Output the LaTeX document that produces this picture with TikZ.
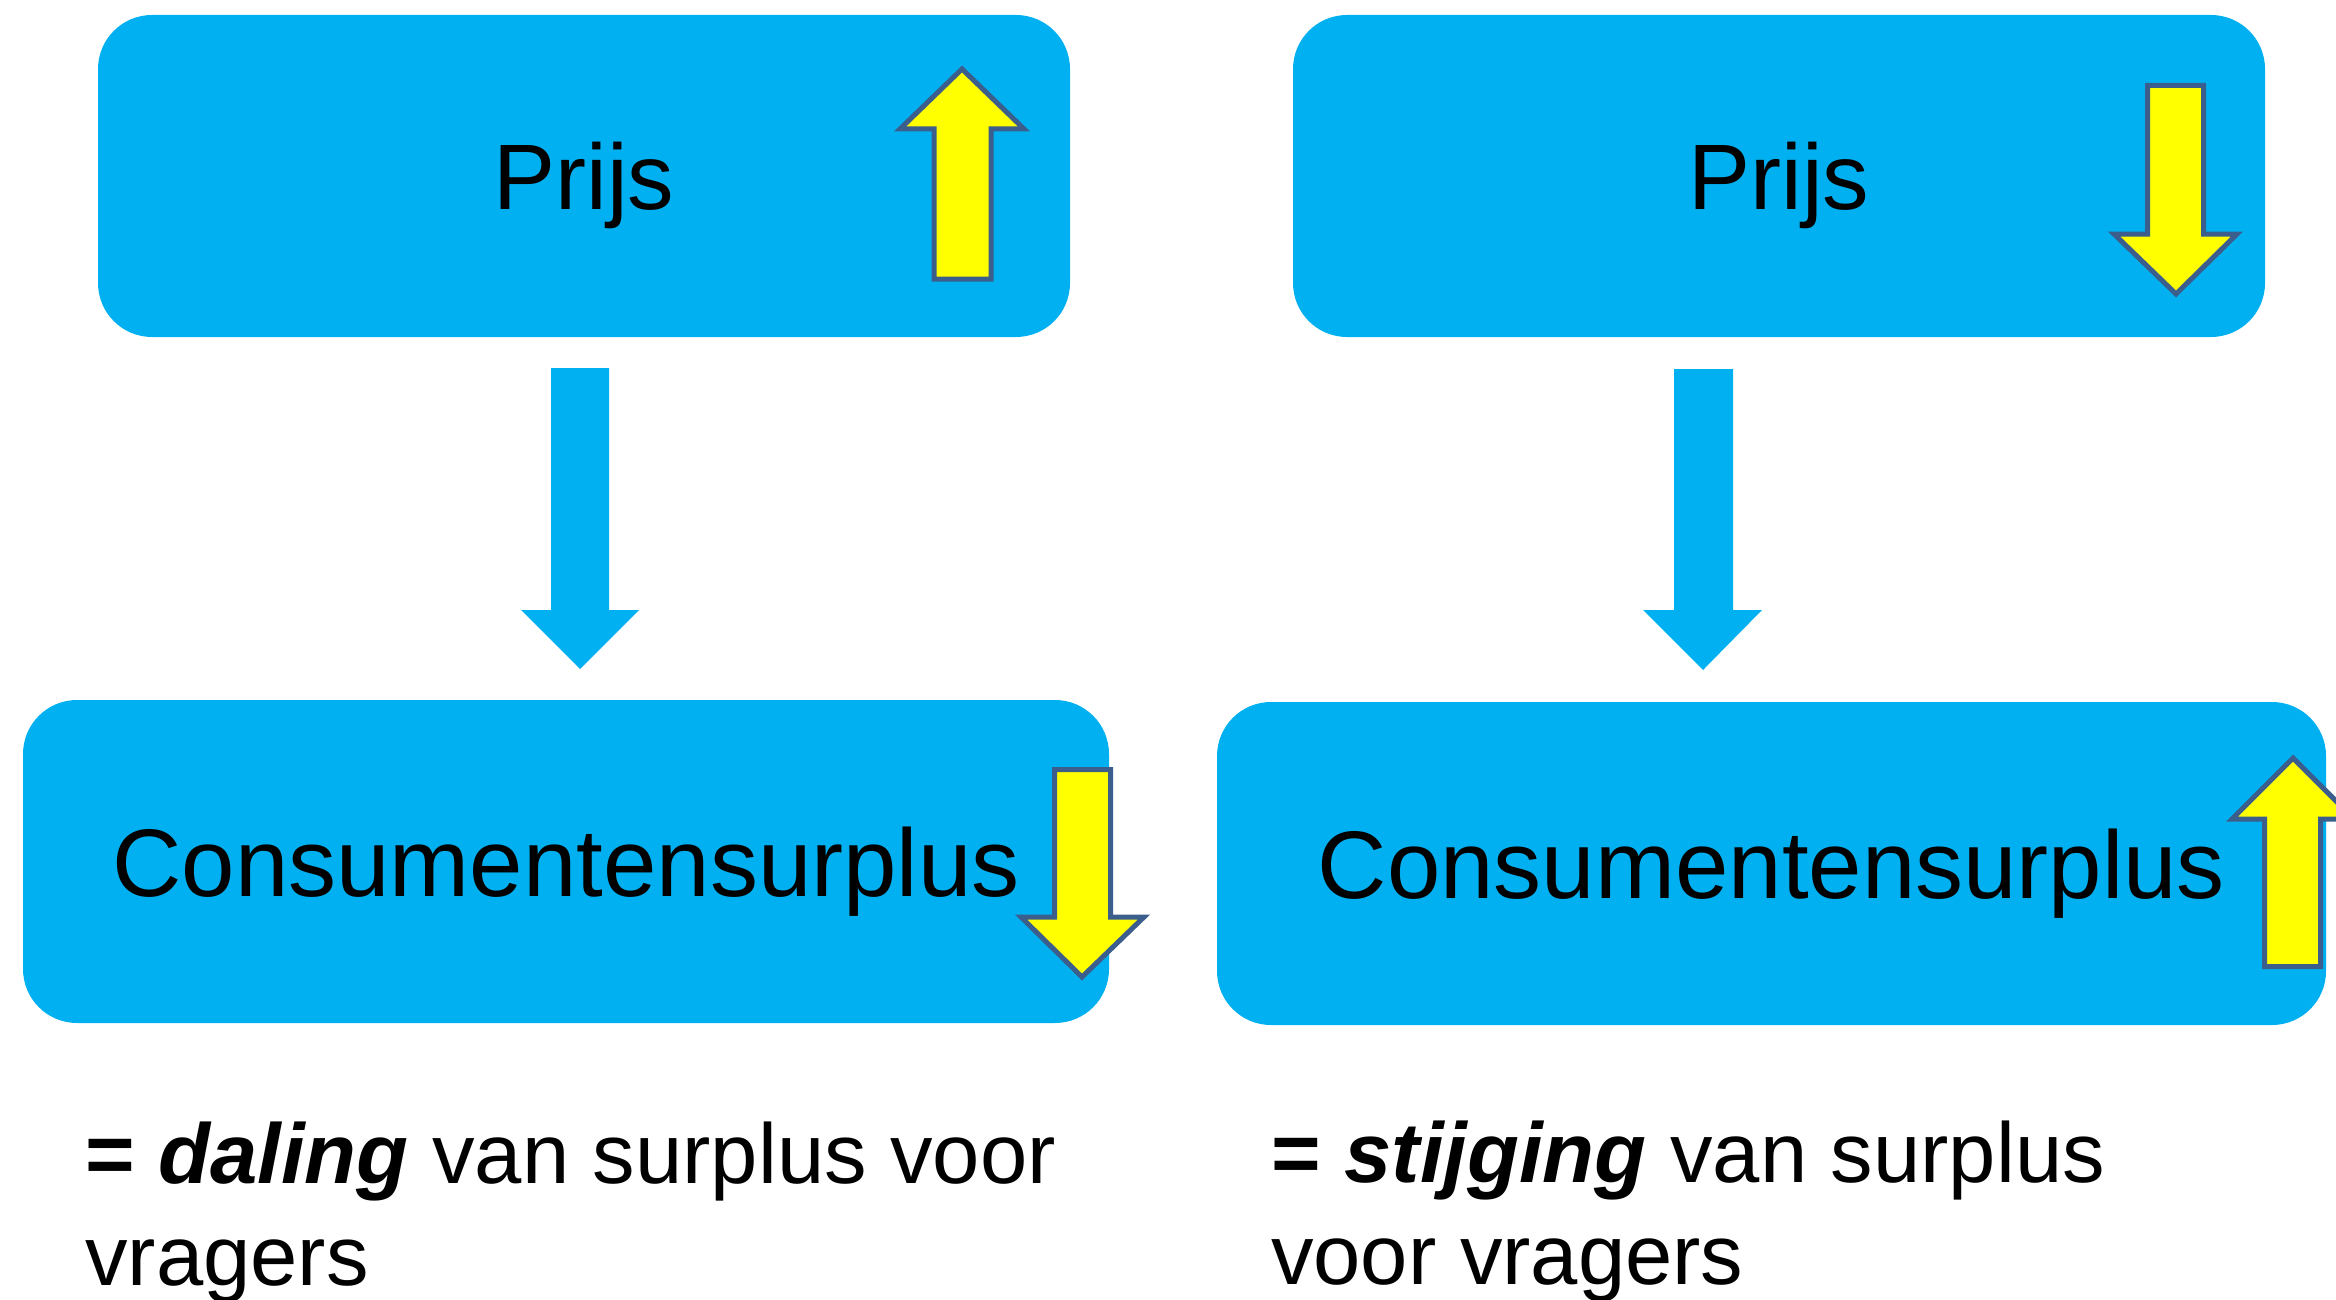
\documentclass[tikz,border=0pt]{standalone}
\usepackage{fontspec}
\setmainfont{Liberation Sans}
\definecolor{boxblue}{HTML}{00B0F0}
\definecolor{arrowyellow}{HTML}{FFFF00}
\definecolor{outlineblue}{HTML}{3B5E8C}
\tikzset{
  bluebox/.style={fill=boxblue, draw=none, rounded corners=54pt, inner sep=0pt,
    text depth=0pt, text=black},
  yellowarrow/.style={fill=arrowyellow, draw=outlineblue, line width=5pt, line join=miter},
  bluearrow/.style={fill=boxblue, draw=none},
  caption/.style={anchor=base west, align=left, inner sep=0pt,
    font={\fontsize{85}{102}\selectfont}}
}
\begin{document}
\begin{tikzpicture}[x=1pt,y=-1pt]
\useasboundingbox (0,0) rectangle (2336,1300);
% boxes
\node[bluebox, minimum width=972pt, minimum height=322pt, text height=67pt, font={\fontsize{93}{112}\selectfont}] (tl) at (584,176) {Prijs};
\node[bluebox, minimum width=972pt, minimum height=322pt, text height=67pt, font={\fontsize{93}{112}\selectfont}] (tr) at (1779,176) {Prijs};
\node[bluebox, minimum width=1086pt, minimum height=323pt, text height=69pt, font={\fontsize{96}{115}\selectfont}] (bl) at (566,861.5) {Consumentensurplus};
\node[bluebox, minimum width=1109pt, minimum height=323pt, text height=69pt, font={\fontsize{96}{115}\selectfont}] (br) at (1771.5,863.5) {Consumentensurplus};
% blue block arrows between boxes
\fill[bluearrow] (551,368) -- (609,368) -- (609,610) -- (639,610) -- (580,669) -- (521,610) -- (551,610) -- cycle;
\fill[bluearrow] (1674,369) -- (1733,369) -- (1733,610) -- (1762,610) -- (1703,670) -- (1643,610) -- (1674,610) -- cycle;
% yellow arrows
\draw[yellowarrow] (934,279) -- (934,129) -- (900,129) -- (962,69) -- (1024,129) -- (991,129) -- (991,279) -- cycle;
\draw[yellowarrow] (2147.5,85.5) -- (2203.5,85.5) -- (2203.5,234) -- (2237,234) -- (2176,294) -- (2114,234) -- (2147.5,234) -- cycle;
\draw[yellowarrow] (1054.5,769.5) -- (1110.5,769.5) -- (1110.5,917) -- (1144,917) -- (1082,977) -- (1021,917) -- (1054.5,917) -- cycle;
\draw[yellowarrow] (2264.5,966.5) -- (2264.5,819) -- (2232,819) -- (2293,758) -- (2354,819) -- (2320.5,819) -- (2320.5,966.5) -- cycle;
% captions (anchor at baseline of last line)
\node[caption] (capl) at (85,1285) {\textbf{=} \textbf{\textit{daling}} van surplus voor\\vragers};
\node[caption] (capr) at (1271,1284) {\textbf{=} \textbf{\textit{stijging}} van surplus\\voor vragers};
\end{tikzpicture}
\end{document}
